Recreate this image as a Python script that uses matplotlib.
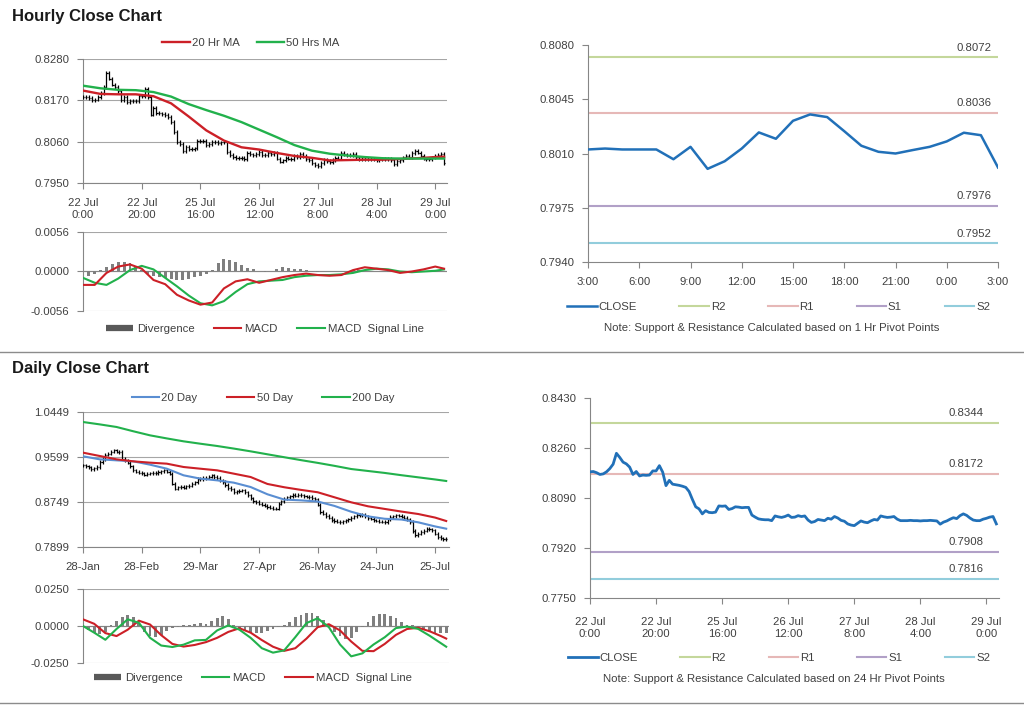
import numpy as np
import matplotlib
matplotlib.use('Agg')
import matplotlib.pyplot as plt
from matplotlib.lines import Line2D

plt.rcParams['font.family'] = ['Liberation Sans', 'DejaVu Sans']

# ---------------- hourly data (22 Jul 0:00 -> 29 Jul ~3:00) ----------------
hourly_close = [
    0.8179, 0.8180, 0.8176, 0.8170, 0.8172, 0.8179, 0.8190, 0.8205, 0.8242, 0.8228,
    0.8212, 0.8206, 0.8195, 0.8170, 0.8180, 0.8165, 0.8168, 0.8167, 0.8168, 0.8182,
    0.8182, 0.8200, 0.8178, 0.8132, 0.8150, 0.8137, 0.8135, 0.8133, 0.8130, 0.8126,
    0.8112, 0.8085, 0.8060, 0.8053, 0.8036, 0.8047, 0.8041, 0.8040, 0.8042, 0.8063,
    0.8062, 0.8063, 0.8051, 0.8054, 0.8060, 0.8059, 0.8057, 0.8058, 0.8058, 0.8032,
    0.8025, 0.8019, 0.8017, 0.8016, 0.8016, 0.8013, 0.8029, 0.8026, 0.8024, 0.8027,
    0.8032, 0.8024, 0.8025, 0.8030, 0.8027, 0.8029, 0.8015, 0.8007, 0.8010, 0.8017,
    0.8015, 0.8013, 0.8021, 0.8018, 0.8027, 0.8022, 0.8014, 0.8011, 0.8002, 0.7998,
    0.7996, 0.8004, 0.8012, 0.8008, 0.8006, 0.8012, 0.8017, 0.8015, 0.8029, 0.8026,
    0.8024, 0.8025, 0.8027, 0.8018, 0.8013, 0.8013, 0.8013, 0.8014, 0.8013, 0.8013,
    0.8012, 0.8013, 0.8013, 0.8014, 0.8013, 0.8012, 0.8001, 0.8008, 0.8012, 0.8018,
    0.8023, 0.8020, 0.8030, 0.8036, 0.8031, 0.8022, 0.8015, 0.8013, 0.8013, 0.8018,
    0.8021, 0.8025, 0.8027, 0.8002,
]
hourly_labels = ['22 Jul\n0:00', '22 Jul\n20:00', '25 Jul\n16:00', '26 Jul\n12:00',
                 '27 Jul\n8:00', '28 Jul\n4:00', '29 Jul\n0:00']

hourly_ma_idx = list(range(0, 121, 6)) + [123]
ma20_hr = [0.8196, 0.8187, 0.8186, 0.8186, 0.8181, 0.8162, 0.8127, 0.8090, 0.8063, 0.8045,
           0.8039, 0.8030, 0.8022, 0.8017, 0.8010, 0.8011, 0.8012, 0.8012, 0.8014, 0.8016,
           0.8019, 0.8020]
ma50_hr = [0.8209, 0.8202, 0.8198, 0.8197, 0.8192, 0.8180, 0.8160, 0.8144, 0.8129, 0.8112,
           0.8092, 0.8072, 0.8051, 0.8036, 0.8028, 0.8023, 0.8019, 0.8016, 0.8015, 0.8015,
           0.8015, 0.8015]

hourly_macd_idx = list(range(0, 121, 4)) + [123]
macd_hr = [-0.0019, -0.0019, -0.0002, 0.0007, 0.0010, 0.0004, -0.0012, -0.0018, -0.0033, -0.0041,
           -0.0047, -0.0044, -0.0024, -0.0014, -0.0011, -0.0016, -0.0012, -0.0008, -0.0005, -0.0003,
           -0.0005, -0.0006, -0.0005, 0.0002, 0.0006, 0.0004, 0.0002, -0.0002, 0.0000, 0.0003,
           0.0007, 0.0004]
signal_hr = [-0.0009, -0.0016, -0.0019, -0.0010, 0.0002, 0.0008, 0.0003, -0.0009, -0.0021, -0.0034,
             -0.0045, -0.0048, -0.0042, -0.0029, -0.0018, -0.0014, -0.0013, -0.0012, -0.0008, -0.0006,
             -0.0005, -0.0005, -0.0004, -0.0002, 0.0002, 0.0004, 0.0003, 0.0000, -0.0001, 0.0000,
             0.0001, 0.0003]
# divergence, every second hour
div_hr = [-0.0008, -0.0006, -0.0003, 0.0002, 0.0006, 0.0010, 0.0013, 0.0013, 0.0012, 0.0008,
          0.0002, -0.0003, -0.0006, -0.0008, -0.0009, -0.0010, -0.0012, -0.0012, -0.0010, -0.0008,
          -0.0006, -0.0003, 0.0002, 0.0012, 0.0018, 0.0017, 0.0013, 0.0009, 0.0005, 0.0003,
          0.0001, -0.0001, 0.0001, 0.0004, 0.0006, 0.0005, 0.0004, 0.0003, 0.0002, 0.0000,
          -0.0001, 0.0000, 0.0000, 0.0001, 0.0000, 0.0001, 0.0002, 0.0002, 0.0002, 0.0001,
          0.0001, 0.0000, -0.0001, 0.0000, 0.0001, 0.0001, 0.0000, 0.0001, 0.0001, 0.0000,
          0.0001, 0.0001]

# last 24 hours, 1 hr pivots
last24_close = [0.80126, 0.80132, 0.80126, 0.80126, 0.80126, 0.80063, 0.80143, 0.80001, 0.80050,
                0.80132, 0.80236, 0.80195, 0.80311, 0.80352, 0.80335, 0.80244, 0.80150, 0.80111,
                0.80100, 0.80122, 0.80143, 0.80178, 0.80234, 0.80218, 0.80010]
last24_labels = ['3:00', '6:00', '9:00', '12:00', '15:00', '18:00', '21:00', '0:00', '3:00']
pivot_1hr = {'R2': 0.8072, 'R1': 0.8036, 'S1': 0.7976, 'S2': 0.7952}
pivot_24hr = {'R2': 0.8344, 'R1': 0.8172, 'S1': 0.7908, 'S2': 0.7816}

# ---------------- daily data (28 Jan -> 25 Jul) ----------------
daily_close = [
    0.9441, 0.9420, 0.9405, 0.9370, 0.9385, 0.9410, 0.9505, 0.9560, 0.9640, 0.9662,
    0.9700, 0.9725, 0.9700, 0.9693, 0.9567, 0.9540, 0.9492, 0.9420, 0.9347, 0.9320,
    0.9303, 0.9290, 0.9265, 0.9280, 0.9295, 0.9303, 0.9290, 0.9316, 0.9330, 0.9347,
    0.9320, 0.9284, 0.9095, 0.9001, 0.9030, 0.9032, 0.9020, 0.9045, 0.9060, 0.9095,
    0.9120, 0.9190, 0.9180, 0.9202, 0.9210, 0.9230, 0.9253, 0.9220, 0.9202, 0.9160,
    0.9127, 0.9070, 0.9013, 0.8990, 0.8938, 0.8950, 0.8960, 0.8969, 0.8930, 0.8875,
    0.8820, 0.8760, 0.8749, 0.8720, 0.8699, 0.8680, 0.8654, 0.8640, 0.8623, 0.8625,
    0.8717, 0.8760, 0.8812, 0.8840, 0.8860, 0.8887, 0.8870, 0.8880, 0.8875, 0.8860,
    0.8850, 0.8843, 0.8820, 0.8799, 0.8700, 0.8560, 0.8530, 0.8484, 0.8450, 0.8410,
    0.8390, 0.8380, 0.8371, 0.8385, 0.8400, 0.8421, 0.8450, 0.8480, 0.8509, 0.8500,
    0.8509, 0.8480, 0.8446, 0.8430, 0.8402, 0.8395, 0.8380, 0.8375, 0.8371, 0.8420,
    0.8465, 0.8480, 0.8497, 0.8490, 0.8470, 0.8446, 0.8420, 0.8371, 0.8200, 0.8119,
    0.8150, 0.8182, 0.8210, 0.8245, 0.8230, 0.8213, 0.8150, 0.8088, 0.8060, 0.8043,
    0.8050,
]
daily_labels = ['28-Jan', '28-Feb', '29-Mar', '27-Apr', '26-May', '24-Jun', '25-Jul']

daily_ma_idx = list(range(0, 127, 6)) + [130]
ma20_day = [0.9612, 0.9555, 0.9536, 0.9517, 0.9454, 0.9378, 0.9253, 0.9190, 0.9158, 0.9114,
            0.9032, 0.8895, 0.8795, 0.8780, 0.8758, 0.8675, 0.8565, 0.8478, 0.8432, 0.8418,
            0.8365, 0.8288, 0.8245]
ma50_day = [0.9681, 0.9618, 0.9555, 0.9517, 0.9492, 0.9473, 0.9410, 0.9378, 0.9347, 0.9284,
            0.9221, 0.9090, 0.9028, 0.8978, 0.8933, 0.8838, 0.8743, 0.8668, 0.8618, 0.8568,
            0.8522, 0.8455, 0.8390]
ma200_day = [1.0260, 1.0215, 1.0166, 1.0085, 1.0008, 0.9950, 0.9895, 0.9850, 0.9807, 0.9758,
             0.9706, 0.9650, 0.9595, 0.9540, 0.9488, 0.9432, 0.9372, 0.9335, 0.9298, 0.9255,
             0.9215, 0.9175, 0.9146]

daily_macd_idx = list(range(0, 129, 4)) + [130]
macd_day = [0.0000, -0.0045, -0.0093, -0.0020, 0.0045, 0.0022, -0.0080, -0.0132, -0.0142, -0.0126,
            -0.0097, -0.0094, -0.0030, 0.0004, -0.0025, -0.0080, -0.0150, -0.0180, -0.0165, -0.0075,
            0.0020, 0.0052, -0.0008, -0.0125, -0.0205, -0.0185, -0.0125, -0.0076, -0.0014, -0.0004,
            -0.0020, -0.0065, -0.0115, -0.0140]
signal_day = [0.0045, 0.0015, -0.0048, -0.0068, -0.0025, 0.0036, 0.0010, -0.0062, -0.0121, -0.0139,
              -0.0128, -0.0109, -0.0080, -0.0040, -0.0015, -0.0045, -0.0095, -0.0140, -0.0168, -0.0150,
              -0.0085, -0.0008, 0.0012, -0.0030, -0.0105, -0.0168, -0.0170, -0.0121, -0.0060, -0.0020,
              -0.0012, -0.0035, -0.0067, -0.0085]
div_day = [-0.0005, -0.0030, -0.0045, -0.0055, -0.0040, 0.0010, 0.0035, 0.0060, 0.0075, 0.0060,
           0.0020, -0.0040, -0.0070, -0.0075, -0.0060, -0.0035, -0.0015, -0.0005, 0.0005, 0.0010,
           0.0015, 0.0020, 0.0015, 0.0035, 0.0055, 0.0065, 0.0045, 0.0010, -0.0015, -0.0035,
           -0.0045, -0.0050, -0.0045, -0.0035, -0.0020, -0.0010, 0.0005, 0.0030, 0.0060, 0.0075,
           0.0085, 0.0085, 0.0070, 0.0040, 0.0005, -0.0040, -0.0070, -0.0085, -0.0080, -0.0040,
           -0.0010, 0.0030, 0.0065, 0.0080, 0.0078, 0.0070, 0.0055, 0.0030, 0.0010, 0.0005,
           -0.0005, -0.0020, -0.0035, -0.0045, -0.0050, -0.0050]

# ---------------- styling ----------------
W, H = 1024, 706
TEXT_C = '#404040'
AXIS_C = '#868686'
GRID_C = '#a6a6a6'
RED = '#cc2027'
GREEN = '#22b14c'
BLUE_MA = '#5a8ed2'
BLUE_CLOSE = '#2170b8'
DIV_C = '#7f7f7f'
PIVOT_C = {'R2': '#c4d79b', 'R1': '#e6b8b7', 'S1': '#b1a0c7', 'S2': '#92cddc'}
FS = 8.2


def px_rect(x0, y0, x1, y1):
    return [x0 / W, 1 - y1 / H, (x1 - x0) / W, (y1 - y0) / H]


def fig_pt(x, y):
    return (x / W, 1 - y / H)


def base_style(ax):
    ax.spines['top'].set_visible(False)
    ax.spines['right'].set_visible(False)
    ax.spines['left'].set_color(AXIS_C)
    ax.spines['bottom'].set_color(AXIS_C)
    ax.tick_params(colors=AXIS_C, labelcolor=TEXT_C, labelsize=FS, length=4, width=0.8)
    ax.tick_params(axis='y', pad=6)
    ax.tick_params(axis='x', pad=7)
    ax.set_facecolor('none')


def set_yticks(ax, vals):
    ax.set_yticks(vals)
    ax.set_yticklabels(['%.4f' % v for v in vals])


def draw_ohlc(ax, close, pad, tick):
    c = np.asarray(close)
    x = np.arange(len(c))
    o = np.r_[c[0], c[:-1]]
    hi = np.maximum(o, c) + pad
    lo = np.minimum(o, c) - pad
    ax.vlines(x, lo, hi, color='black', lw=0.9, zorder=3)
    ax.hlines(o, x - tick, x, color='black', lw=0.9, zorder=3)
    ax.hlines(c, x, x + tick, color='black', lw=0.9, zorder=3)


def macd_panel(ax, idx, macd, signal, div, macd_c, sig_c, lim, xmax):
    base_style(ax)
    ax.spines['bottom'].set_visible(False)
    ax.bar(np.arange(len(div)) * 2, div, width=1.0, color=DIV_C, zorder=2)
    l1, = ax.plot(idx, macd, color=macd_c, lw=1.5, zorder=4)
    l2, = ax.plot(idx, signal, color=sig_c, lw=1.5, zorder=3)
    ax.set_ylim(-lim, lim)
    ax.set_xlim(0, xmax)
    set_yticks(ax, [-lim, 0.0, lim])
    ax.yaxis.grid(True, color=GRID_C, lw=0.8)
    ax.set_axisbelow(True)
    ax.set_xticks([])
    return l1, l2


def pivot_panel(ax, close, pivots, ylim, yticks, xticks, xlabels, xmax, lab_x, close_lw):
    base_style(ax)
    x = np.arange(len(close))
    handles = []
    lc, = ax.plot(x, close, color=BLUE_CLOSE, lw=close_lw, zorder=4, solid_joinstyle='round')
    handles.append(lc)
    for name in ['R2', 'R1', 'S1', 'S2']:
        v = pivots[name]
        ln = ax.axhline(v, color=PIVOT_C[name], lw=1.5, zorder=2)
        handles.append(ln)
        ax.annotate('%.4f' % v, xy=(lab_x, v), xycoords=('axes fraction', 'data'),
                    xytext=(0, 3.5), textcoords='offset points', ha='right', va='bottom',
                    fontsize=FS, color=TEXT_C)
    ax.set_ylim(*ylim)
    set_yticks(ax, yticks)
    ax.set_xlim(0, xmax)
    ax.set_xticks(xticks)
    ax.set_xticklabels(xlabels, linespacing=1.25)
    return handles


fig = plt.figure(figsize=(W / 100, H / 100), dpi=100)

fig.text(12 / W, 1 - 16 / H, 'Hourly Close Chart', fontsize=12, fontweight='bold',
         color='#1a1a1a', ha='left', va='center')
fig.text(12 / W, 1 - 369 / H, 'Daily Close Chart', fontsize=12, fontweight='bold',
         color='#1a1a1a', ha='left', va='center')
for ysep in (352, 703):
    fig.add_artist(Line2D([0, 1], [1 - ysep / H] * 2, transform=fig.transFigure,
                          color='#8c8c8c', lw=1.0))

# ---- hourly bars + MAs ----
ax_h = fig.add_axes(px_rect(83, 59, 447, 183))
base_style(ax_h)
draw_ohlc(ax_h, hourly_close, 0.0005, 0.4)
l20, = ax_h.plot(hourly_ma_idx, ma20_hr, color=RED, lw=1.7, zorder=4)
l50, = ax_h.plot(hourly_ma_idx, ma50_hr, color=GREEN, lw=1.7, zorder=5)
ax_h.set_ylim(0.7950, 0.8280)
set_yticks(ax_h, [0.7950, 0.8060, 0.8170, 0.8280])
ax_h.yaxis.grid(True, color=GRID_C, lw=0.8)
ax_h.set_axisbelow(True)
ax_h.set_xlim(0, 124)
ax_h.set_xticks(range(0, 121, 20))
ax_h.set_xticklabels(hourly_labels, linespacing=1.25)
ax_h.legend([l20, l50], ['20 Hr MA', '50 Hrs MA'], loc='center', bbox_to_anchor=fig_pt(251, 43),
            bbox_transform=fig.transFigure, ncol=2, frameon=False, fontsize=FS, labelcolor=TEXT_C,
            handlelength=2.4, handletextpad=0.2, columnspacing=1.5, borderpad=0)

# ---- hourly MACD ----
ax_hm = fig.add_axes(px_rect(83, 232, 447, 311))
m1, m2 = macd_panel(ax_hm, hourly_macd_idx, macd_hr, signal_hr, div_hr, RED, GREEN, 0.0056, 124)
ax_hm.axhline(0, color=AXIS_C, lw=0.8, zorder=1)
div_handle = Line2D([], [], color='#595959', lw=4.5, solid_capstyle='butt')
ax_hm.legend([div_handle, m1, m2], ['Divergence', 'MACD', 'MACD  Signal Line'], loc='center',
             bbox_to_anchor=fig_pt(265, 329), bbox_transform=fig.transFigure, ncol=3, frameon=False,
             fontsize=FS, labelcolor=TEXT_C, handlelength=2.4, handletextpad=0.3,
             columnspacing=1.7, borderpad=0)

# ---- last 24 hours with 1 hr pivots ----
ax_hp = fig.add_axes(px_rect(588, 45, 998, 262))
hp = pivot_panel(ax_hp, last24_close, pivot_1hr, (0.7940, 0.8080),
                 [0.7940, 0.7975, 0.8010, 0.8045, 0.8080], range(0, 25, 3), last24_labels,
                 24, 0.985, 1.8)
ax_hp.legend(hp, ['CLOSE', 'R2', 'R1', 'S1', 'S2'], loc='center',
             bbox_to_anchor=((567 - 588) / 410, (262 - 307) / 217 - 0.05, (990 - 567) / 410, 0.1),
             mode='expand', ncol=5, frameon=False, fontsize=FS, labelcolor=TEXT_C,
             handlelength=2.6, handletextpad=0.15, borderpad=0, borderaxespad=0)
fig.text(772 / W, 1 - 328 / H, 'Note: Support & Resistance Calculated based on 1 Hr Pivot Points',
         fontsize=FS, color=TEXT_C, ha='center', va='center')

# ---- daily bars + MAs ----
ax_d = fig.add_axes(px_rect(83, 412, 449, 547))
base_style(ax_d)
draw_ohlc(ax_d, daily_close, 0.003, 0.4)
d20, = ax_d.plot(daily_ma_idx, ma20_day, color=BLUE_MA, lw=1.5, zorder=4)
d50, = ax_d.plot(daily_ma_idx, ma50_day, color=RED, lw=1.5, zorder=4)
d200, = ax_d.plot(daily_ma_idx, ma200_day, color=GREEN, lw=1.5, zorder=4)
ax_d.set_ylim(0.7899, 1.0449)
set_yticks(ax_d, [0.7899, 0.8749, 0.9599, 1.0449])
ax_d.yaxis.grid(True, color=GRID_C, lw=0.8)
ax_d.set_axisbelow(True)
ax_d.set_xlim(0, 131)
ax_d.set_xticks(range(0, 127, 21))
ax_d.set_xticklabels(daily_labels)
ax_d.legend([d20, d50, d200], ['20 Day', '50 Day', '200 Day'], loc='center',
            bbox_to_anchor=fig_pt(263, 398), bbox_transform=fig.transFigure, ncol=3, frameon=False,
            fontsize=FS, labelcolor=TEXT_C, handlelength=2.4, handletextpad=0.2,
            columnspacing=2.6, borderpad=0)

# ---- daily MACD ----
ax_dm = fig.add_axes(px_rect(83, 589, 449, 663))
n1, n2 = macd_panel(ax_dm, daily_macd_idx, macd_day, signal_day, div_day, GREEN, RED, 0.0250, 131)
ax_dm.axhline(0, color=AXIS_C, lw=0.8, zorder=1)
ax_dm.legend([div_handle, n1, n2], ['Divergence', 'MACD', 'MACD  Signal Line'], loc='center',
             bbox_to_anchor=fig_pt(253, 678), bbox_transform=fig.transFigure, ncol=3, frameon=False,
             fontsize=FS, labelcolor=TEXT_C, handlelength=2.4, handletextpad=0.3,
             columnspacing=1.7, borderpad=0)

# ---- hourly close with 24 hr pivots ----
ax_dp = fig.add_axes(px_rect(590, 398, 999, 598))
dp = pivot_panel(ax_dp, hourly_close, pivot_24hr, (0.7750, 0.8430),
                 [0.7750, 0.7920, 0.8090, 0.8260, 0.8430], range(0, 121, 20), hourly_labels,
                 123.8, 0.963, 2.0)
ax_dp.tick_params(axis='x', pad=10)
ax_dp.legend(dp, ['CLOSE', 'R2', 'R1', 'S1', 'S2'], loc='center',
             bbox_to_anchor=((568 - 590) / 409, (598 - 658) / 200 - 0.05, (990 - 568) / 409, 0.1),
             mode='expand', ncol=5, frameon=False, fontsize=FS, labelcolor=TEXT_C,
             handlelength=2.6, handletextpad=0.15, borderpad=0, borderaxespad=0)
fig.text(774 / W, 1 - 679 / H, 'Note: Support & Resistance Calculated based on 24 Hr Pivot Points',
         fontsize=FS, color=TEXT_C, ha='center', va='center')

fig.savefig('out.png', dpi=100)
